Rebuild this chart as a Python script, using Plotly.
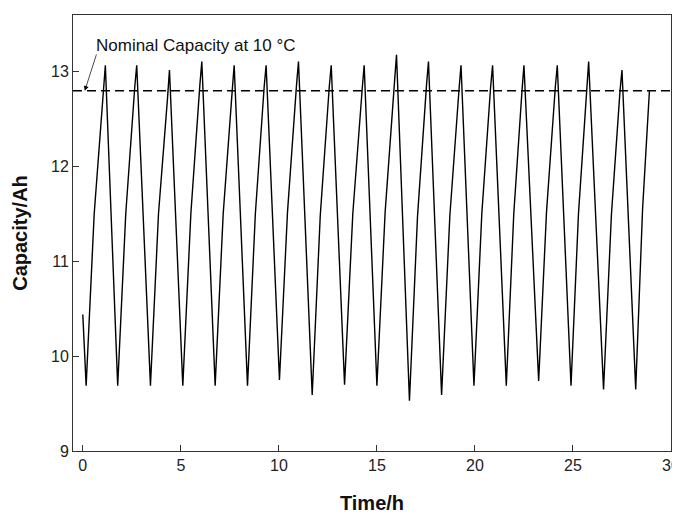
import plotly.graph_objects as go

# ---- data ----
start_t, start_c = 0.0, 10.44
trough_t = [0.17, 1.78, 3.45, 5.10, 6.75, 8.40, 10.03, 11.70, 13.35, 15.00,
            16.66, 18.30, 19.95, 21.60, 23.25, 24.90, 26.56, 28.20]
trough_c = [9.69, 9.69, 9.69, 9.69, 9.69, 9.69, 9.75, 9.59, 9.70, 9.69,
            9.53, 9.59, 9.69, 9.69, 9.74, 9.69, 9.65, 9.65]
rise_t = [0.58, 2.19, 3.86, 5.51, 7.16, 8.80, 10.44, 12.11, 13.77, 15.42,
          17.07, 18.72, 20.35, 21.98, 23.65, 25.28, 26.96, 28.55]
rise_c = [11.50, 11.50, 11.50, 11.50, 11.50, 11.50, 11.52, 11.48, 11.50, 11.52,
          11.47, 11.48, 11.50, 11.50, 11.52, 11.50, 11.49, 11.55]
knee_t = [1.05, 2.65, 4.32, 5.97, 7.62, 9.25, 10.90, 12.57, 14.25, 15.90,
          17.53, 19.19, 20.80, 22.40, 24.10, 25.70, 27.40]
knee_c = [12.82, 12.84, 12.72, 12.86, 12.80, 12.84, 12.86, 12.84, 12.82, 12.90,
          12.86, 12.82, 12.84, 12.80, 12.84, 12.80, 12.80]
peak_t = [1.15, 2.75, 4.42, 6.07, 7.72, 9.35, 11.00, 12.67, 14.35, 16.00,
          17.63, 19.29, 20.90, 22.50, 24.20, 25.80, 27.50]
peak_c = [13.07, 13.07, 13.02, 13.11, 13.07, 13.07, 13.11, 13.07, 13.07, 13.18,
          13.11, 13.07, 13.07, 13.07, 13.07, 13.11, 13.02]
end_t, end_c = 28.90, 12.80
nominal_capacity = 12.8

# assemble the polyline from the read points
xs, ys = [start_t], [start_c]
for i in range(len(trough_t)):
    xs += [trough_t[i], rise_t[i]]
    ys += [trough_c[i], rise_c[i]]
    if i < len(peak_t):
        xs += [knee_t[i], peak_t[i]]
        ys += [knee_c[i], peak_c[i]]
xs.append(end_t)
ys.append(end_c)

fig = go.Figure()
fig.add_trace(go.Scatter(x=[-0.5, 30], y=[nominal_capacity, nominal_capacity],
                         mode="lines", line=dict(color="black", width=1.5, dash="9px,5px"),
                         hoverinfo="skip", showlegend=False))
fig.add_trace(go.Scatter(x=xs, y=ys, mode="lines",
                         line=dict(color="black", width=1.4), showlegend=False))

fig.add_annotation(x=0.1, y=nominal_capacity, ax=0.72, ay=13.2, axref="x", ayref="y",
                   xref="x", yref="y", text="", showarrow=True,
                   arrowhead=2, arrowsize=1.4, arrowwidth=0.7, arrowcolor="black")
fig.add_annotation(x=0.62, y=13.28, xref="x", yref="y", text="Nominal Capacity at 10 °C",
                   showarrow=False, xanchor="left", yanchor="middle", borderpad=0,
                   font=dict(family="Liberation Sans", size=17, color="#111"))

axis_common = dict(showgrid=False, zeroline=False, showline=True, linecolor="#333",
                   linewidth=1, mirror=True, ticks="inside", ticklen=6, tickcolor="#333",
                   automargin=False,
                   tickfont=dict(family="Liberation Sans", size=16, color="#222"))
fig.update_xaxes(range=[-0.5, 30], tickvals=[0, 5, 10, 15, 20, 25, 30],
                 title=dict(text="<b>Time/h</b>", font=dict(family="Liberation Sans", size=20, color="#111"),
                            standoff=30), **axis_common)
fig.update_yaxes(range=[9, 13.6], tickvals=[9, 10, 11, 12, 13],
                 title=dict(text="<b>Capacity/Ah</b>", font=dict(family="Liberation Sans", size=20, color="#111"),
                            standoff=18), **axis_common)

# page body adds an 8px offset, so the figure is 672x506 to fill the 680x514 window
fig.update_layout(width=672, height=506, margin=dict(l=65, r=9, t=7, b=63, autoexpand=False),
                  plot_bgcolor="white", paper_bgcolor="white", showlegend=False)
fig.write_html("out.html")
